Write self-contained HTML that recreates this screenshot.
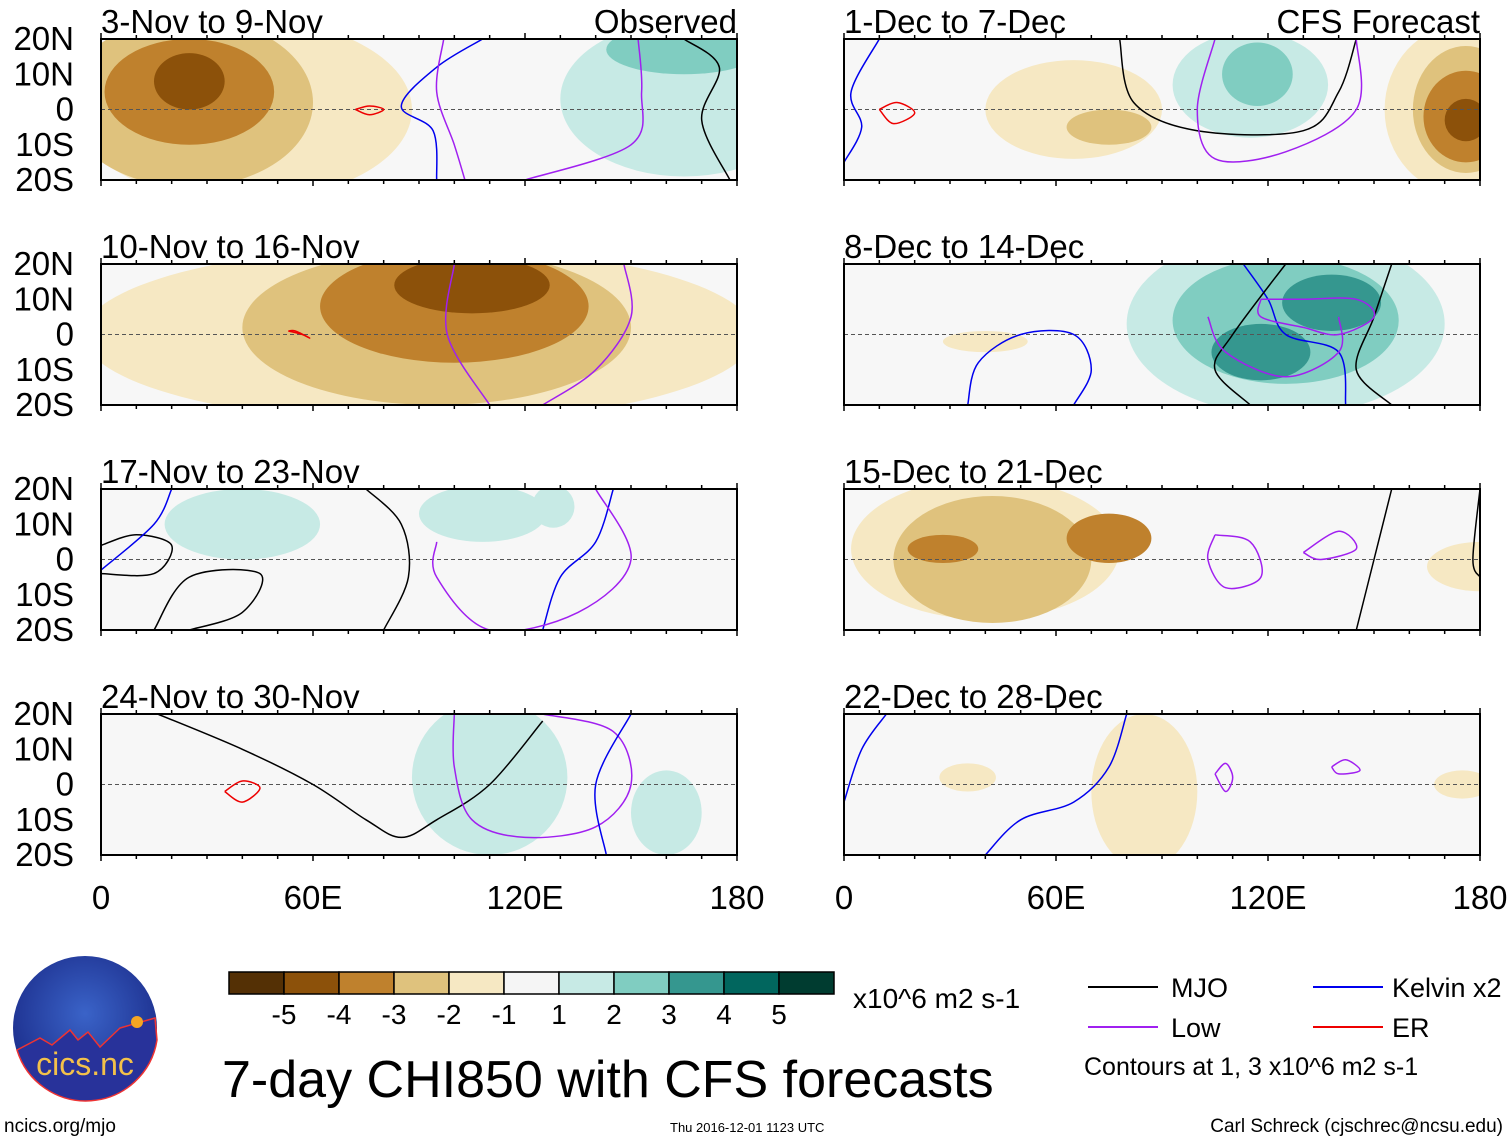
<!DOCTYPE html>
<html><head><meta charset="utf-8"><style>
body{margin:0;background:#fff;font-family:"Liberation Sans",sans-serif}
svg text{font-family:"Liberation Sans",sans-serif}
</style></head><body>
<svg id="fig" width="1510" height="1142" viewBox="0 0 1510 1142" xmlns="http://www.w3.org/2000/svg">
<defs><radialGradient id="lg" cx="50%" cy="40%" r="60%"><stop offset="0" stop-color="#3a63c8"/><stop offset="1" stop-color="#1b2c8a"/></radialGradient></defs>
<g id="panels"></g>
<g id="cbar"></g>
<text x="853" y="1008" font-size="28">x10^6 m2 s-1</text>
<g>
<line x1="1088" y1="987" x2="1158" y2="987" stroke="#000" stroke-width="2"/><text x="1171" y="997" font-size="27">MJO</text>
<line x1="1313" y1="987" x2="1383" y2="987" stroke="#0000ee" stroke-width="2"/><text x="1392" y="997" font-size="27">Kelvin x2</text>
<line x1="1088" y1="1027" x2="1158" y2="1027" stroke="#a020f0" stroke-width="2"/><text x="1171" y="1037" font-size="27">Low</text>
<line x1="1313" y1="1027" x2="1383" y2="1027" stroke="#ee0000" stroke-width="2"/><text x="1392" y="1037" font-size="27">ER</text>
<text x="1084" y="1075" font-size="25">Contours at 1, 3 x10^6 m2 s-1</text>
</g>
<text x="222" y="1097" font-size="52">7-day CHI850 with CFS forecasts</text>
<g>
<circle cx="85" cy="1028" r="72" fill="url(#lg)"/>
<path d="M17,1050 L40,1038 L52,1045 L70,1030 L78,1040 L88,1032 L100,1047 L120,1028 L155,1018 L157,1040 A72,72 0 0 1 17,1050Z" fill="#28329a" stroke="#e33" stroke-width="1.5"/>
<circle cx="137" cy="1022" r="6" fill="#f5a623"/>
<text x="85" y="1075" font-size="32" fill="#f3c14a" text-anchor="middle">cics.nc</text>
</g>
<text x="4" y="1132" font-size="19">ncics.org/mjo</text>
<text x="670" y="1132" font-size="13">Thu 2016-12-01 1123 UTC</text>
<text x="1503" y="1132" font-size="19" text-anchor="end">Carl Schreck (cjschrec@ncsu.edu)</text>
</svg>
<script>
const levelColors=["#543005","#8c510a","#bf812d","#dfc27d","#f6e8c3","#f5f5f5","#c7eae5","#80cdc1","#35978f","#01665e","#003c30"];
const levelLabels=["-5","-4","-3","-2","-1","1","2","3","4","5"];
const panelTitles=["3-Nov to 9-Nov","10-Nov to 16-Nov","17-Nov to 23-Nov","24-Nov to 30-Nov","1-Dec to 7-Dec","8-Dec to 14-Dec","15-Dec to 21-Dec","22-Dec to 28-Dec"];
const latTicks=[20,10,0,-10,-20];
const latLabels=["20N","10N","0","10S","20S"];
const lonTicks=[0,60,120,180];
const lonLabels=["0","60E","120E","180"];
// blobs: [lon, lat, lonRadius, latRadius, level]
const blobs0=[[40,0,48,26,-1],[25,2,35,24,-2],[25,5,24,15,-3],[25,8,10,8,-4],[165,3,35,22,1],[165,17,22,7,2]];
const blobs1=[[90,0,95,25,-1],[95,2,55,22,-2],[100,8,38,16,-3],[105,14,22,8,-4]];
const blobs2=[[40,10,22,10,1],[108,13,18,8,1],[128,15,6,6,1]];
const blobs3=[[110,2,22,22,1],[160,-8,10,12,1]];
const blobs4=[[65,0,25,14,-1],[75,-5,12,5,-2],[115,7,22,15,1],[117,10,10,9,2],[175,0,22,24,-1],[176,0,15,18,-2],[176,-2,12,13,-3],[176,-3,6,6,-4]];
const blobs5=[[125,3,45,26,1],[125,4,32,18,2],[118,-5,14,8,3],[138,9,14,8,3],[40,-2,12,3,-1]];
const blobs6=[[40,3,38,20,-1],[42,0,28,18,-2],[75,6,12,7,-3],[28,3,10,4,-3],[180,-2,15,7,-1]];
const blobs7=[[85,-2,15,22,-1],[35,2,8,4,-1],[175,0,8,4,-1]];
const allBlobs=[blobs0,blobs1,blobs2,blobs3,blobs4,blobs5,blobs6,blobs7];
const lines0=[["blue",[[108,20],[95,12],[85,1],[94,-6],[95,-20]]],["purple",[[97,20],[95,5],[100,-10],[103,-20]]],["purple",[[152,20],[153,5],[150,-10],[120,-20]]],["black",[[165,20],[175,12],[170,-3],[178,-20]]],["red",[[72,0],[76,1],[80,0],[76,-1.5],[72,0]]]];
const lines1=[["purple",[[100,20],[98,0],[110,-20]]],["purple",[[148,20],[150,5],[140,-10],[125,-20]]],["red",[[53,1],[57,0],[59,-1],[55,1],[53,1]]]];
const lines2=[["black",[[0,-4],[15,-4],[20,4],[10,7],[0,4]]],["black",[[15,-20],[25,-5],[45,-4],[40,-15],[25,-20]]],["black",[[75,20],[85,10],[87,-5],[80,-20]]],["blue",[[0,-3],[15,10],[20,20]]],["blue",[[125,-20],[130,-5],[140,5],[145,20]]],["purple",[[140,20],[150,0],[135,-15],[110,-20],[95,-5],[95,5]]]];
const lines3=[["black",[[16,20],[40,10],[60,0],[75,-10],[85,-15],[95,-10],[110,0],[125,18]]],["purple",[[125,20],[145,15],[150,0],[140,-12],[120,-15],[105,-10],[100,5],[100,20]]],["blue",[[150,20],[140,0],[143,-20]]],["red",[[35,-2],[40,1],[45,-1],[40,-5],[35,-2]]]];
const lines4=[["blue",[[0,-15],[5,-5],[2,5],[10,20]]],["black",[[78,20],[82,2],[100,-6],[130,-6],[140,5],[145,20]]],["purple",[[105,20],[100,0],[105,-14],[125,-12],[145,0],[145,20]]],["red",[[10,0],[15,2],[20,-1],[14,-4],[10,0]]]];
const lines5=[["blue",[[35,-20],[38,-8],[50,0],[65,0],[70,-10],[65,-20]]],["blue",[[113,20],[120,10],[125,0],[140,-5],[142,-20]]],["black",[[125,20],[110,0],[105,-10],[115,-20]]],["black",[[155,20],[150,5],[145,-10],[155,-20]]],["purple",[[118,10],[130,10],[145,10],[150,5],[140,0],[130,2],[118,5],[118,10]]],["purple",[[103,5],[108,-5],[125,-12],[140,-5],[140,5]]]];
const lines6=[["purple",[[105,7],[115,5],[118,-5],[108,-8],[103,0],[105,7]]],["purple",[[130,2],[140,8],[145,3],[135,0],[130,2]]],["black",[[145,-20],[150,0],[155,20]]],["black",[[180,20],[178,0],[180,-5]]]];
const lines7=[["blue",[[0,-5],[5,10],[12,20]]],["blue",[[40,-20],[50,-10],[65,-5],[75,5],[80,20]]],["purple",[[105,3],[108,6],[110,2],[108,-2],[105,3]]],["purple",[[138,5],[142,7],[146,4],[140,3],[138,5]]]];
const allLines=[lines0,lines1,lines2,lines3,lines4,lines5,lines6,lines7];
const colors={blue:"#0000ee",purple:"#a020f0",black:"#000",red:"#ee0000"};
const NS="http://www.w3.org/2000/svg";
const panelsG=document.getElementById('panels');
const colX=[101,844],rowY=[39,264,489,714],PW=636,PH=141;
function mk(tag,attrs,parent){const e=document.createElementNS(NS,tag);for(const k in attrs)e.setAttribute(k,attrs[k]);parent.appendChild(e);return e;}
function smooth(pts){
  let d='M'+pts[0][0].toFixed(1)+','+pts[0][1].toFixed(1);
  for(let i=0;i<pts.length-1;i++){
    const p0=pts[Math.max(i-1,0)],p1=pts[i],p2=pts[i+1],p3=pts[Math.min(i+2,pts.length-1)];
    const c1=[p1[0]+(p2[0]-p0[0])/6,p1[1]+(p2[1]-p0[1])/6],c2=[p2[0]-(p3[0]-p1[0])/6,p2[1]-(p3[1]-p1[1])/6];
    d+=' C'+c1.map(v=>v.toFixed(1)).join(',')+' '+c2.map(v=>v.toFixed(1)).join(',')+' '+p2.map(v=>v.toFixed(1)).join(',');
  }
  return d;
}
for(let p=0;p<8;p++){
  const x0=colX[p<4?0:1],y0=rowY[p%4];
  const xs=lon=>x0+lon/180*PW, ys=lat=>y0+(20-lat)/40*PH;
  const g=mk('g',{},panelsG);
  
  
  const cp=mk('clipPath',{id:'c'+p},g);
  mk('rect',{x:x0,y:y0,width:PW,height:PH},cp);
  mk('rect',{x:x0,y:y0,width:PW,height:PH,fill:"#f7f7f7"},g);
  const sg=mk('g',{'clip-path':'url(#c'+p+')'},g);
  allBlobs[p].forEach(b=>{
    const e=mk('ellipse',{cx:xs(b[0]),cy:ys(b[1]),rx:b[2]/180*PW,ry:b[3]/40*PH,fill:levelColors[b[4]+5]},sg);
    
    
  });
  mk('line',{x1:x0,y1:ys(0),x2:x0+PW,y2:ys(0),stroke:"#555","stroke-dasharray":"4,3","stroke-width":1},sg);
  allLines[p].forEach(l=>{
    const pts=l[1].map(q=>[xs(q[0]),ys(q[1])]);
    const e=mk('path',{d:smooth(pts),fill:'none',stroke:colors[l[0]],'stroke-width':1.5,'stroke-linejoin':'round'},sg);
    
    
  });
  mk('rect',{x:x0,y:y0,width:PW,height:PH,fill:'none',stroke:'#000','stroke-width':2},g);
  for(let lon=0;lon<=180;lon+=10){const h=lon%60==0?6:4;mk('line',{x1:xs(lon),y1:y0,x2:xs(lon),y2:y0-h,stroke:'#000','stroke-width':1.5},g);mk('line',{x1:xs(lon),y1:y0+PH,x2:xs(lon),y2:y0+PH+h,stroke:'#000','stroke-width':1.5},g);}
  const t=mk('text',{x:x0,y:y0-6,'font-size':33},g);t.textContent=panelTitles[p];
  
  
  if(p==0){const o=mk('text',{x:x0+PW,y:y0-6,'font-size':33,'text-anchor':'end'},g);o.textContent="Observed";}
  if(p==4){const o=mk('text',{x:x0+PW,y:y0-6,'font-size':33,'text-anchor':'end'},g);o.textContent="CFS Forecast";}
  if(p<4){latTicks.forEach((lt,i)=>{const tt=mk('text',{x:x0-27,y:ys(lt)+11,'font-size':33,'text-anchor':'end'},g);tt.textContent=latLabels[i];
    
    });}
  if(p%4==3){lonTicks.forEach((ln,i)=>{const tt=mk('text',{x:xs(ln),y:y0+PH+54,'font-size':33,'text-anchor':'middle'},g);tt.textContent=lonLabels[i];
    
    });}
}
const cb=document.getElementById('cbar');
const cx0=229,cw=55,cy=972,ch=22;
levelColors.forEach((c,i)=>{const r=mk('rect',{x:cx0+i*cw,y:cy,width:cw,height:ch,fill:c,stroke:'#000','stroke-width':1.5},cb);
  
  });
levelLabels.forEach((l,i)=>{const t=mk('text',{x:cx0+(i+1)*cw,y:1024,'font-size':28,'text-anchor':'middle'},cb);t.textContent=l;
  
  });
</script>
</body></html>
